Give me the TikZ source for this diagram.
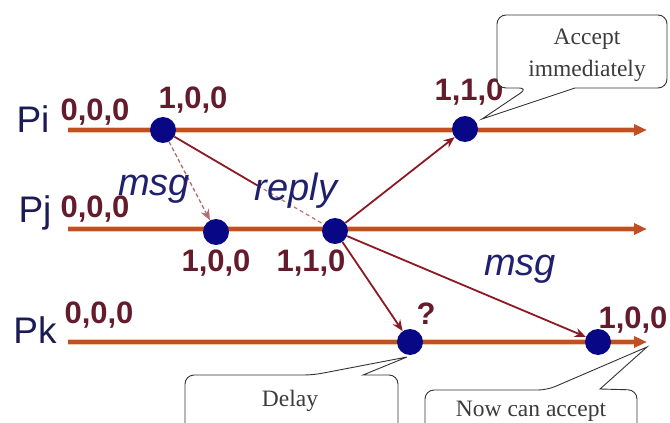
\documentclass[tikz,border=0pt]{standalone}
\usepackage{fontspec}
\setmainfont{Liberation Sans}
\newfontfamily\callfont{Liberation Serif}
\usetikzlibrary{arrows.meta,calc}
\definecolor{tline}{RGB}{192,80,36}
\definecolor{thalo}{RGB}{248,200,165}
\definecolor{dotblue}{RGB}{8,8,135}
\definecolor{vclock}{RGB}{100,28,45}
\definecolor{pname}{RGB}{28,28,85}
\definecolor{msgcol}{RGB}{32,32,110}
\definecolor{arr}{RGB}{140,25,35}
\definecolor{calltext}{RGB}{60,60,60}
\tikzset{
  timeline/.style={line width=3.5pt, draw=tline, -{Triangle[length=13pt,width=11pt]},
    preaction={-, draw=thalo, line width=6.5pt, shorten >=10pt}},
  evdot/.style={circle, fill=dotblue, minimum size=26pt, inner sep=0pt},
  msgarrow/.style={draw=arr, line width=1.8pt, -{Stealth[length=11pt,width=9pt]}},
  msgline/.style={draw=arr, line width=1.8pt},
  pnamestyle/.style={text=pname, font=\fontsize{37}{42}\selectfont, anchor=base, inner sep=0pt},
  vcstyle/.style={text=vclock, font=\bfseries\fontsize{31}{36}\selectfont, anchor=base, inner sep=0pt},
  msglabel/.style={text=msgcol, font=\itshape\fontsize{38}{43}\selectfont, anchor=base, inner sep=0pt},
  callout/.style={draw=black!80, line width=0.9pt, fill=white},
  calltextstyle/.style={text=calltext, font=\callfont\fontsize{23.5}{28}\selectfont, anchor=base, inner sep=0pt}
}
\begin{document}
\begin{tikzpicture}[x=1pt,y=-1pt]
\useasboundingbox (0,0) rectangle (670,423);
\clip (0,0) rectangle (670,423);
\fill[white] (0,0) rectangle (670,423);

% time lines
\coordinate (pis) at (68,130);  \coordinate (pie) at (647,130);
\coordinate (pjs) at (68,229);  \coordinate (pje) at (647,229);
\coordinate (pks) at (68,342);  \coordinate (pke) at (647,342);
\draw[timeline] (pis) -- (pie);
\draw[timeline] (pjs) -- (pje);
\draw[timeline] (pks) -- (pke);

% process names
\node[pnamestyle] (npi) at (33,132) {Pi};
\node[pnamestyle] (npj) at (35,222) {Pj};
\node[pnamestyle] (npk) at (35,343) {Pk};

% events
\node[evdot] (pi1) at (163,130) {};
\node[evdot] (pi2) at (465,129) {};
\node[evdot] (pj1) at (216,232) {};
\node[evdot] (pj2) at (335,231) {};
\node[evdot] (pk1) at (410,342) {};
\node[evdot] (pk2) at (598,342) {};

% messages
\draw[msgarrow, draw=arr!65, line width=1.3pt, dash pattern=on 4pt off 2.5pt] (pi1) -- (pj1);
\coordinate (rmid) at ($(pi1)!0.55!(pj2)$);
\draw[msgline] (pi1) -- (rmid);
\draw[msgline, draw=arr!60, line width=1.2pt, dash pattern=on 4pt off 3pt] (rmid) -- (pj2);
\draw[msgarrow] (pj2) -- (pi2);
\draw[msgarrow] (pj2) -- (pk1);
\draw[msgarrow] (pj2) -- (pk2);

% vector clocks
\node[vcstyle] (vi0) at (95,120) {0,0,0};
\node[vcstyle] (vi1) at (193,108) {1,0,0};
\node[vcstyle] (vi2) at (469,100) {1,1,0};
\node[vcstyle] (vj0) at (95,217) {0,0,0};
\node[vcstyle] (vj1) at (216,271) {1,0,0};
\node[vcstyle] (vj2) at (311,271) {1,1,0};
\node[vcstyle] (vk0) at (99,323) {0,0,0};
\node[vcstyle] (vkq) at (426,324) {?};
\node[vcstyle] (vk2) at (633,328) {1,0,0};

% message labels
\node[msglabel] (lmsg1) at (154,195) {msg};
\node[msglabel] (lreply) at (296,200) {reply};
\node[msglabel] (lmsg2) at (520,275) {msg};

% callouts
\draw[callout] (528,88) -- (482,119) -- (575,88) [rounded corners=9pt] -- (667,88) -- (667,15) -- (497,15) -- (497,88) -- cycle;
\node[calltextstyle] (tacc) at (587,45) {Accept};
\node[calltextstyle] (timm) at (587,76) {immediately};

\draw[callout] (313,375) -- (407,357) -- (363,375) [rounded corners=9pt] -- (398,375) -- (398,445) -- (185,445) -- (185,375) -- cycle;
\node[calltextstyle] (tdelay) at (290,406) {Delay};

\draw[callout] (547,390) -- (647,347) -- (600,389) [rounded corners=9pt] -- (637,390) -- (637,445) -- (425,445) -- (425,390) -- cycle;
\node[calltextstyle] (tnow) at (531,416) {Now can accept};
\end{tikzpicture}
\end{document}
